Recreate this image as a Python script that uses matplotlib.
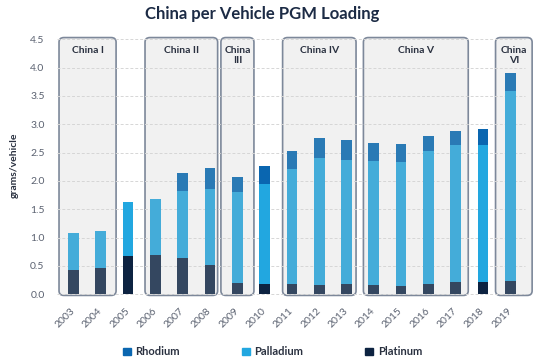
import numpy as np
import matplotlib
matplotlib.use('Agg')
import matplotlib.pyplot as plt
from matplotlib.patches import FancyBboxPatch, Patch

plt.rcParams['font.family'] = ['Lato', 'DejaVu Sans']

# data
years = [2003, 2004, 2005, 2006, 2007, 2008, 2009, 2010, 2011,
         2012, 2013, 2014, 2015, 2016, 2017, 2018, 2019]
platinum = [0.43, 0.46, 0.68, 0.69, 0.64, 0.51, 0.20, 0.18, 0.19,
            0.17, 0.18, 0.17, 0.15, 0.18, 0.21, 0.21, 0.24]
pgm_to_palladium = [1.08, 1.11, 1.63, 1.68, 1.82, 1.85, 1.80, 1.95, 2.21,
                    2.40, 2.37, 2.36, 2.34, 2.53, 2.63, 2.63, 3.58]
total = [1.08, 1.11, 1.63, 1.68, 2.14, 2.22, 2.07, 2.27, 2.53,
         2.75, 2.72, 2.67, 2.65, 2.79, 2.89, 2.91, 3.91]

palladium = np.array(pgm_to_palladium) - np.array(platinum)
rhodium = np.array(total) - np.array(pgm_to_palladium)

stage_names = ['China I', 'China II', 'China\nIII', 'China IV', 'China V', 'China\nVI']
stage_first = [2003, 2006, 2009, 2011, 2014, 2019]
stage_last = [2004, 2008, 2009, 2013, 2017, 2019]
# box padding left/right of first/last bar (layout only)
pad_left = [0.53, 0.38, 0.60, 0.34, 0.38, 0.54]
pad_right = [0.56, 0.28, 0.61, 0.35, 0.46, 0.80]

vivid = {'Rhodium': '#0a66b0', 'Palladium': '#22a7e0', 'Platinum': '#0d2341'}
muted = {'Rhodium': '#2a7ab5', 'Palladium': '#44acd9', 'Platinum': '#344760'}

fig = plt.figure(figsize=(5.46, 3.59), dpi=100)
ax = fig.add_axes([0.1046, 0.1724, 0.8725, 0.734])

x = np.arange(len(years))
in_box = set()
for f, l in zip(stage_first, stage_last):
    for yr in range(f, l + 1):
        in_box.add(years.index(yr))

# stage boxes
for name, f, l, pl, pr in zip(stage_names, stage_first, stage_last, pad_left, pad_right):
    x0 = years.index(f) - pl
    x1 = years.index(l) + pr
    box = FancyBboxPatch((x0, -0.02), x1 - x0, 4.55,
                         boxstyle='round,pad=0,rounding_size=0.18',
                         mutation_aspect=0.45,
                         facecolor='#f1f1f1', edgecolor='#7d889a',
                         linewidth=1.2, zorder=1, clip_on=False)
    ax.add_patch(box)
    ax.text((x0 + x1) / 2, 4.39, name, ha='center', va='top',
            fontsize=7.5, fontweight='bold', color='#2a3140',
            linespacing=1.25, zorder=4)

# dashed gridlines
for gy in np.arange(0, 4.51, 0.5):
    ax.hlines(gy, -0.6, 16.55, colors='#d6d6d6', linestyles=(0, (3, 2)),
              linewidth=0.7, zorder=1.5)

w = 0.39
for i in x:
    c = muted if i in in_box else vivid
    ax.bar(i, platinum[i], w, color=c['Platinum'], zorder=2)
    ax.bar(i, palladium[i], w, bottom=platinum[i], color=c['Palladium'], zorder=2)
    ax.bar(i, rhodium[i], w, bottom=pgm_to_palladium[i], color=c['Rhodium'], zorder=2)

ax.set_xlim(-0.6, 16.85)
ax.set_ylim(-0.05, 4.6)
ax.set_yticks(np.arange(0, 4.51, 0.5))
ax.set_yticklabels([f'{v:.1f}' for v in np.arange(0, 4.51, 0.5)])
ax.set_xticks(x)
ax.set_xticklabels([str(y) for y in years], rotation=45, ha='right',
                   va='center', rotation_mode='anchor')
ax.tick_params(axis='both', length=0, labelsize=7.5, colors='#5a6170')
ax.tick_params(axis='y', pad=9)
ax.tick_params(axis='x', pad=9)
for s in ax.spines.values():
    s.set_visible(False)

ax.set_ylabel('grams/vehicle', fontsize=7.5, fontweight='bold', color='#2a3140', labelpad=8)

fig.text(0.48, 0.962, 'China per Vehicle PGM Loading', ha='center', va='center',
         fontsize=12, fontweight='bold', color='#1c2b45')

handles = [Patch(color=vivid[k]) for k in ['Rhodium', 'Palladium', 'Platinum']]
fig.legend(handles, ['Rhodium', 'Palladium', 'Platinum'], ncol=3, loc='center',
           bbox_to_anchor=(0.499, 0.02), frameon=False,
           prop={'size': 8, 'weight': 'bold'},
           handlelength=0.7, handleheight=0.7, handletextpad=0.4,
           columnspacing=5.6, labelcolor='#2a3140')

fig.savefig('out.png', dpi=100)
